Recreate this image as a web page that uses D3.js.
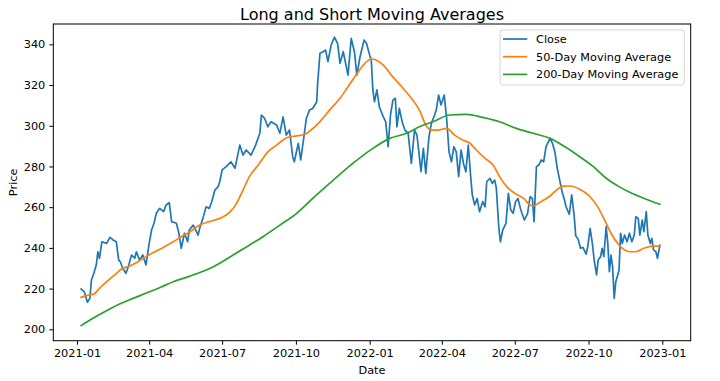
<!DOCTYPE html>
<html><head><meta charset="utf-8">
<script src="https://cdn.jsdelivr.net/npm/d3@7"></script>
<style>
html,body{margin:0;padding:0;background:#fff;}
svg text{font-family:"DejaVu Sans",sans-serif;fill:#000;}
</style></head>
<body><svg id="chart" width="720" height="381"></svg>
<script>
const title = "Long and Short Moving Averages";
const xLabel = "Date";
const yLabel = "Price";
const seriesNames = ["Close", "50-Day Moving Average", "200-Day Moving Average"];
const seriesColors = ["#1f77b4", "#ff7f0e", "#2ca02c"];
const yTicks = [200, 220, 240, 260, 280, 300, 320, 340];
const xTickLabels = ["2021-01","2021-04","2021-07","2021-10","2022-01","2022-04","2022-07","2022-10","2023-01"];

const closeDates = [
"2021-01-06","2021-01-10","2021-01-14","2021-01-17","2021-01-19","2021-01-22","2021-01-25","2021-01-27","2021-01-29",
"2021-02-01","2021-02-07","2021-02-11","2021-02-15","2021-02-19","2021-02-22","2021-02-24","2021-02-27",
"2021-03-03","2021-03-06","2021-03-10","2021-03-14","2021-03-16","2021-03-20","2021-03-24","2021-03-28",
"2021-04-01","2021-04-04","2021-04-07","2021-04-10","2021-04-14","2021-04-19","2021-04-22","2021-04-26","2021-04-29",
"2021-05-05","2021-05-08","2021-05-11","2021-05-15","2021-05-19","2021-05-21","2021-05-26",
"2021-06-01","2021-06-03","2021-06-07","2021-06-11","2021-06-15","2021-06-18","2021-06-22","2021-06-26","2021-06-28",
"2021-07-01","2021-07-06","2021-07-12","2021-07-17","2021-07-23","2021-07-27","2021-07-31",
"2021-08-06","2021-08-11","2021-08-17","2021-08-19","2021-08-23","2021-08-27","2021-08-31",
"2021-09-07","2021-09-11","2021-09-15","2021-09-19","2021-09-23","2021-09-27","2021-09-29",
"2021-10-04","2021-10-07","2021-10-11","2021-10-14","2021-10-18","2021-10-22","2021-10-27","2021-10-28","2021-10-31",
"2021-11-04","2021-11-07","2021-11-10","2021-11-14","2021-11-18","2021-11-22","2021-11-25","2021-11-29",
"2021-12-02","2021-12-05","2021-12-09","2021-12-13","2021-12-16","2021-12-20","2021-12-25","2021-12-28",
"2022-01-01","2022-01-03","2022-01-05","2022-01-07","2022-01-10","2022-01-13","2022-01-18","2022-01-21","2022-01-24","2022-01-27","2022-01-30",
"2022-02-02","2022-02-04","2022-02-07","2022-02-11","2022-02-14","2022-02-18","2022-02-22","2022-02-26",
"2022-03-01","2022-03-04","2022-03-06","2022-03-09","2022-03-12","2022-03-16","2022-03-19","2022-03-23","2022-03-25","2022-03-28","2022-03-31",
"2022-04-04","2022-04-07","2022-04-10","2022-04-13","2022-04-16","2022-04-19","2022-04-22","2022-04-25","2022-04-28",
"2022-05-01","2022-05-04","2022-05-07","2022-05-09","2022-05-12","2022-05-15","2022-05-18","2022-05-22","2022-05-25","2022-05-27","2022-05-31",
"2022-06-03","2022-06-06","2022-06-08","2022-06-11","2022-06-13","2022-06-16","2022-06-20","2022-06-23","2022-06-26","2022-06-29",
"2022-07-02","2022-07-05","2022-07-08","2022-07-10","2022-07-13","2022-07-17","2022-07-20","2022-07-23","2022-07-25","2022-07-28","2022-07-31",
"2022-08-03","2022-08-06","2022-08-09","2022-08-14","2022-08-17","2022-08-20","2022-08-23","2022-08-26","2022-08-29",
"2022-09-01","2022-09-03","2022-09-07","2022-09-10","2022-09-13","2022-09-15","2022-09-18","2022-09-21","2022-09-24","2022-09-28","2022-09-30",
"2022-10-03","2022-10-06","2022-10-08","2022-10-11","2022-10-13","2022-10-16","2022-10-18","2022-10-20","2022-10-23","2022-10-25","2022-10-27","2022-10-29","2022-10-31",
"2022-11-02","2022-11-04","2022-11-07","2022-11-08","2022-11-10","2022-11-12","2022-11-15","2022-11-18","2022-11-21","2022-11-24","2022-11-27","2022-11-29",
"2022-12-02","2022-12-04","2022-12-07","2022-12-09","2022-12-12","2022-12-14","2022-12-17","2022-12-19","2022-12-21","2022-12-24","2022-12-26","2022-12-29"
];
const closeValues = [
219.8,218.5,213.3,215.2,224.2,227.5,231.6,238.1,234.9,
243.0,242.2,245.2,243.9,243.0,234.0,233.2,230.0,
227.5,230.8,236.5,234.9,238.1,234.0,236.5,231.6,
242.2,248.8,252.1,257.0,259.4,257.8,261.1,262.2,252.9,
252.1,247.2,239.8,247.2,243.0,248.8,251.2,
246.3,249.6,254.5,260.2,259.4,262.7,268.4,270.1,272.5,
278.3,279.9,282.3,279.1,290.5,285.6,288.1,
285.6,289.7,296.3,305.3,303.6,299.5,302.0,
300.4,296.3,304.4,295.4,297.9,284.8,282.3,
291.4,283.2,294.6,303.6,307.7,308.5,311.8,320.0,335.6,
336.4,337.2,331.5,339.7,343.5,340.5,330.7,336.4,
330.7,324.9,342.9,336.4,324.9,333.9,342.1,340.5,
334.7,332.3,317.6,311.8,317.6,309.4,304.4,302.0,289.7,305.3,312.6,
313.5,299.5,308.5,301.2,297.9,296.3,281.5,297.9,
295.4,284.8,277.4,288.9,276.6,294.6,301.2,305.3,307.7,315.1,310.2,
315.1,303.6,287.2,282.3,289.7,287.2,275.0,288.1,281.5,
277.4,290.5,275.0,266.0,261.1,264.3,257.8,262.7,260.2,272.5,274.2,
271.7,273.3,269.3,250.4,243.0,248.8,252.1,266.8,258.6,257.0,
262.7,264.3,259.4,257.0,253.7,257.0,265.1,264.3,252.9,279.9,280.7,
283.2,282.3,289.7,293.8,291.4,287.2,279.1,273.3,267.6,
263.5,260.2,256.5,266.0,256.0,246.0,244.3,239.8,240.2,236.9,240.6,
249.6,241.5,234.0,226.7,234.0,235.7,239.8,235.7,250.4,242.2,228.3,236.5,230.8,
215.2,223.4,227.5,229.1,247.2,242.2,246.3,243.0,247.2,243.0,246.3,255.3,
254.5,246.3,253.7,248.0,257.8,246.3,242.2,244.7,239.0,238.1,234.9,241.4
];

const ma50Dates = [
"2021-01-06","2021-01-15","2021-01-22","2021-01-29","2021-02-07","2021-02-17","2021-02-25","2021-03-08","2021-03-18","2021-03-28",
"2021-04-08","2021-04-18","2021-05-01","2021-05-11","2021-05-21","2021-06-03","2021-06-15","2021-06-28","2021-07-10","2021-07-19",
"2021-07-27","2021-08-04","2021-08-15","2021-08-27","2021-09-07","2021-09-15","2021-09-23","2021-10-02","2021-10-12","2021-10-20",
"2021-10-31","2021-11-12","2021-11-25","2021-12-05","2021-12-15","2021-12-26","2022-01-03","2022-01-09","2022-01-18","2022-01-28",
"2022-02-10","2022-02-22","2022-03-04","2022-03-12","2022-03-19","2022-03-27","2022-04-07","2022-04-17","2022-04-27","2022-05-06",
"2022-05-14","2022-05-25","2022-06-04","2022-06-12","2022-06-21","2022-07-01","2022-07-12","2022-07-20","2022-07-24","2022-08-01",
"2022-08-14","2022-08-22","2022-08-30","2022-09-08","2022-09-20","2022-10-02","2022-10-13","2022-10-21","2022-10-29","2022-11-08",
"2022-11-21","2022-11-29","2022-12-09","2022-12-19","2022-12-29"
];
const ma50Values = [
215.7,216.8,217.3,220.1,223.4,226.7,229.5,231.1,233.2,235.7,
238.1,240.1,243.0,245.5,247.7,251.2,252.9,254.5,257.3,261.9,
268.4,275.0,280.7,287.2,290.5,293.0,294.6,295.0,295.8,297.9,
302.0,307.7,313.5,319.2,324.9,330.7,332.8,332.3,329.8,324.9,
319.2,313.5,307.7,300.4,297.9,297.9,298.7,295.4,293.0,291.4,
288.1,284.0,280.7,275.0,270.1,266.8,264.3,261.1,260.6,262.3,
265.5,268.4,270.3,270.4,268.8,265.5,259.8,253.7,247.2,241.4,
238.1,238.1,239.8,240.9,240.9
];

const ma200Dates = [
"2021-01-06","2021-01-21","2021-02-07","2021-02-23","2021-03-12","2021-03-28","2021-04-14","2021-05-01","2021-05-21","2021-06-19",
"2021-07-25","2021-08-21","2021-09-11","2021-10-02","2021-10-22","2021-11-12","2021-12-11","2022-01-05","2022-01-26","2022-02-16",
"2022-03-04","2022-03-21","2022-04-11","2022-05-02","2022-05-22","2022-06-12","2022-07-03","2022-07-24","2022-08-14","2022-09-03",
"2022-09-20","2022-10-07","2022-10-23","2022-11-08","2022-11-24","2022-12-11","2022-12-29"
];
const ma200Values = [
201.8,205.4,209.1,212.4,215.2,217.7,220.4,223.4,226.0,230.5,
239.0,245.5,251.2,257.0,264.3,271.7,281.5,288.9,293.8,296.3,
299.5,302.0,305.3,305.6,304.1,302.0,298.7,296.3,293.8,289.3,
284.8,279.9,274.2,270.1,266.8,264.0,261.4
];

const parse = d3.utcParse("%Y-%m-%d");
const W = 720, H = 381;
const margin = {left: 53.3, right: 29.3, top: 24, bottom: 40.3};
const svg = d3.select("#chart");

const x = d3.scaleUtc()
  .domain([Date.UTC(2020, 11, 2, 10), Date.UTC(2023, 1, 5, 10)])
  .range([margin.left, W - margin.right]);
const y = d3.scaleLinear()
  .domain([194.4, 350])
  .range([H - margin.bottom, margin.top]);

const series = [
  closeDates.map((d, i) => ({date: parse(d), value: closeValues[i]})),
  ma50Dates.map((d, i) => ({date: parse(d), value: ma50Values[i]})),
  ma200Dates.map((d, i) => ({date: parse(d), value: ma200Values[i]}))
];

const line = d3.line().x(d => x(d.date)).y(d => y(d.value));
const smooth = d3.line().x(d => x(d.date)).y(d => y(d.value)).curve(d3.curveMonotoneX);

svg.append("g").selectAll("path").data(series).join("path")
  .attr("d", (s, i) => i === 0 ? line(s) : smooth(s))
  .attr("fill", "none")
  .attr("stroke", (s, i) => seriesColors[i])
  .attr("stroke-width", 1.7)
  .attr("stroke-linejoin", "round")
  .attr("stroke-linecap", "round");

// axes
const fmt = d3.utcFormat("%Y-%m");
const xTickDates = xTickLabels.map(s => parse(s + "-01"));
const xAxis = d3.axisBottom(x).tickValues(xTickDates).tickFormat(fmt).tickSize(4).tickPadding(4);
const yAxis = d3.axisLeft(y).tickValues(yTicks).tickSize(4).tickPadding(4);

const gx = svg.append("g").attr("transform", `translate(0,${H - margin.bottom})`).call(xAxis);
const gy = svg.append("g").attr("transform", `translate(${margin.left},0)`).call(yAxis);
[gx, gy].forEach(g => {
  g.select(".domain").remove();
  g.selectAll(".tick line").attr("stroke", "#000").attr("stroke-width", 1);
  g.selectAll(".tick text").attr("font-size", "11.3px").attr("fill", "#000").attr("font-family", "DejaVu Sans");
});

// frame
svg.append("rect")
  .attr("x", margin.left).attr("y", margin.top)
  .attr("width", W - margin.left - margin.right)
  .attr("height", H - margin.top - margin.bottom)
  .attr("fill", "none").attr("stroke", "#000").attr("stroke-width", 1);

// title & labels
svg.append("text").attr("x", (margin.left + W - margin.right) / 2).attr("y", 19.5)
  .attr("text-anchor", "middle").attr("font-size", "16px").text(title);
svg.append("text").attr("x", (margin.left + W - margin.right) / 2).attr("y", 374)
  .attr("text-anchor", "middle").attr("font-size", "11.3px").text(xLabel);
svg.append("text")
  .attr("transform", `translate(17,${(margin.top + H - margin.bottom) / 2}) rotate(-90)`)
  .attr("text-anchor", "middle").attr("font-size", "11.3px").text(yLabel);

// legend
const lg = svg.append("g");
lg.append("rect").attr("x", 500).attr("y", 30).attr("width", 184.3).attr("height", 55)
  .attr("rx", 3).attr("fill", "#fff").attr("fill-opacity", 0.8)
  .attr("stroke", "#d6d6d6").attr("stroke-width", 1);
const items = lg.selectAll("g.item").data(seriesNames).join("g")
  .attr("transform", (d, i) => `translate(0,${39 + i * 17.7})`);
items.append("line").attr("x1", 503).attr("x2", 527.3).attr("y1", 0).attr("y2", 0)
  .attr("stroke", (d, i) => seriesColors[i]).attr("stroke-width", 1.7);
items.append("text").attr("x", 536).attr("y", 4).attr("font-size", "11.3px").text(d => d);
</script></body></html>
